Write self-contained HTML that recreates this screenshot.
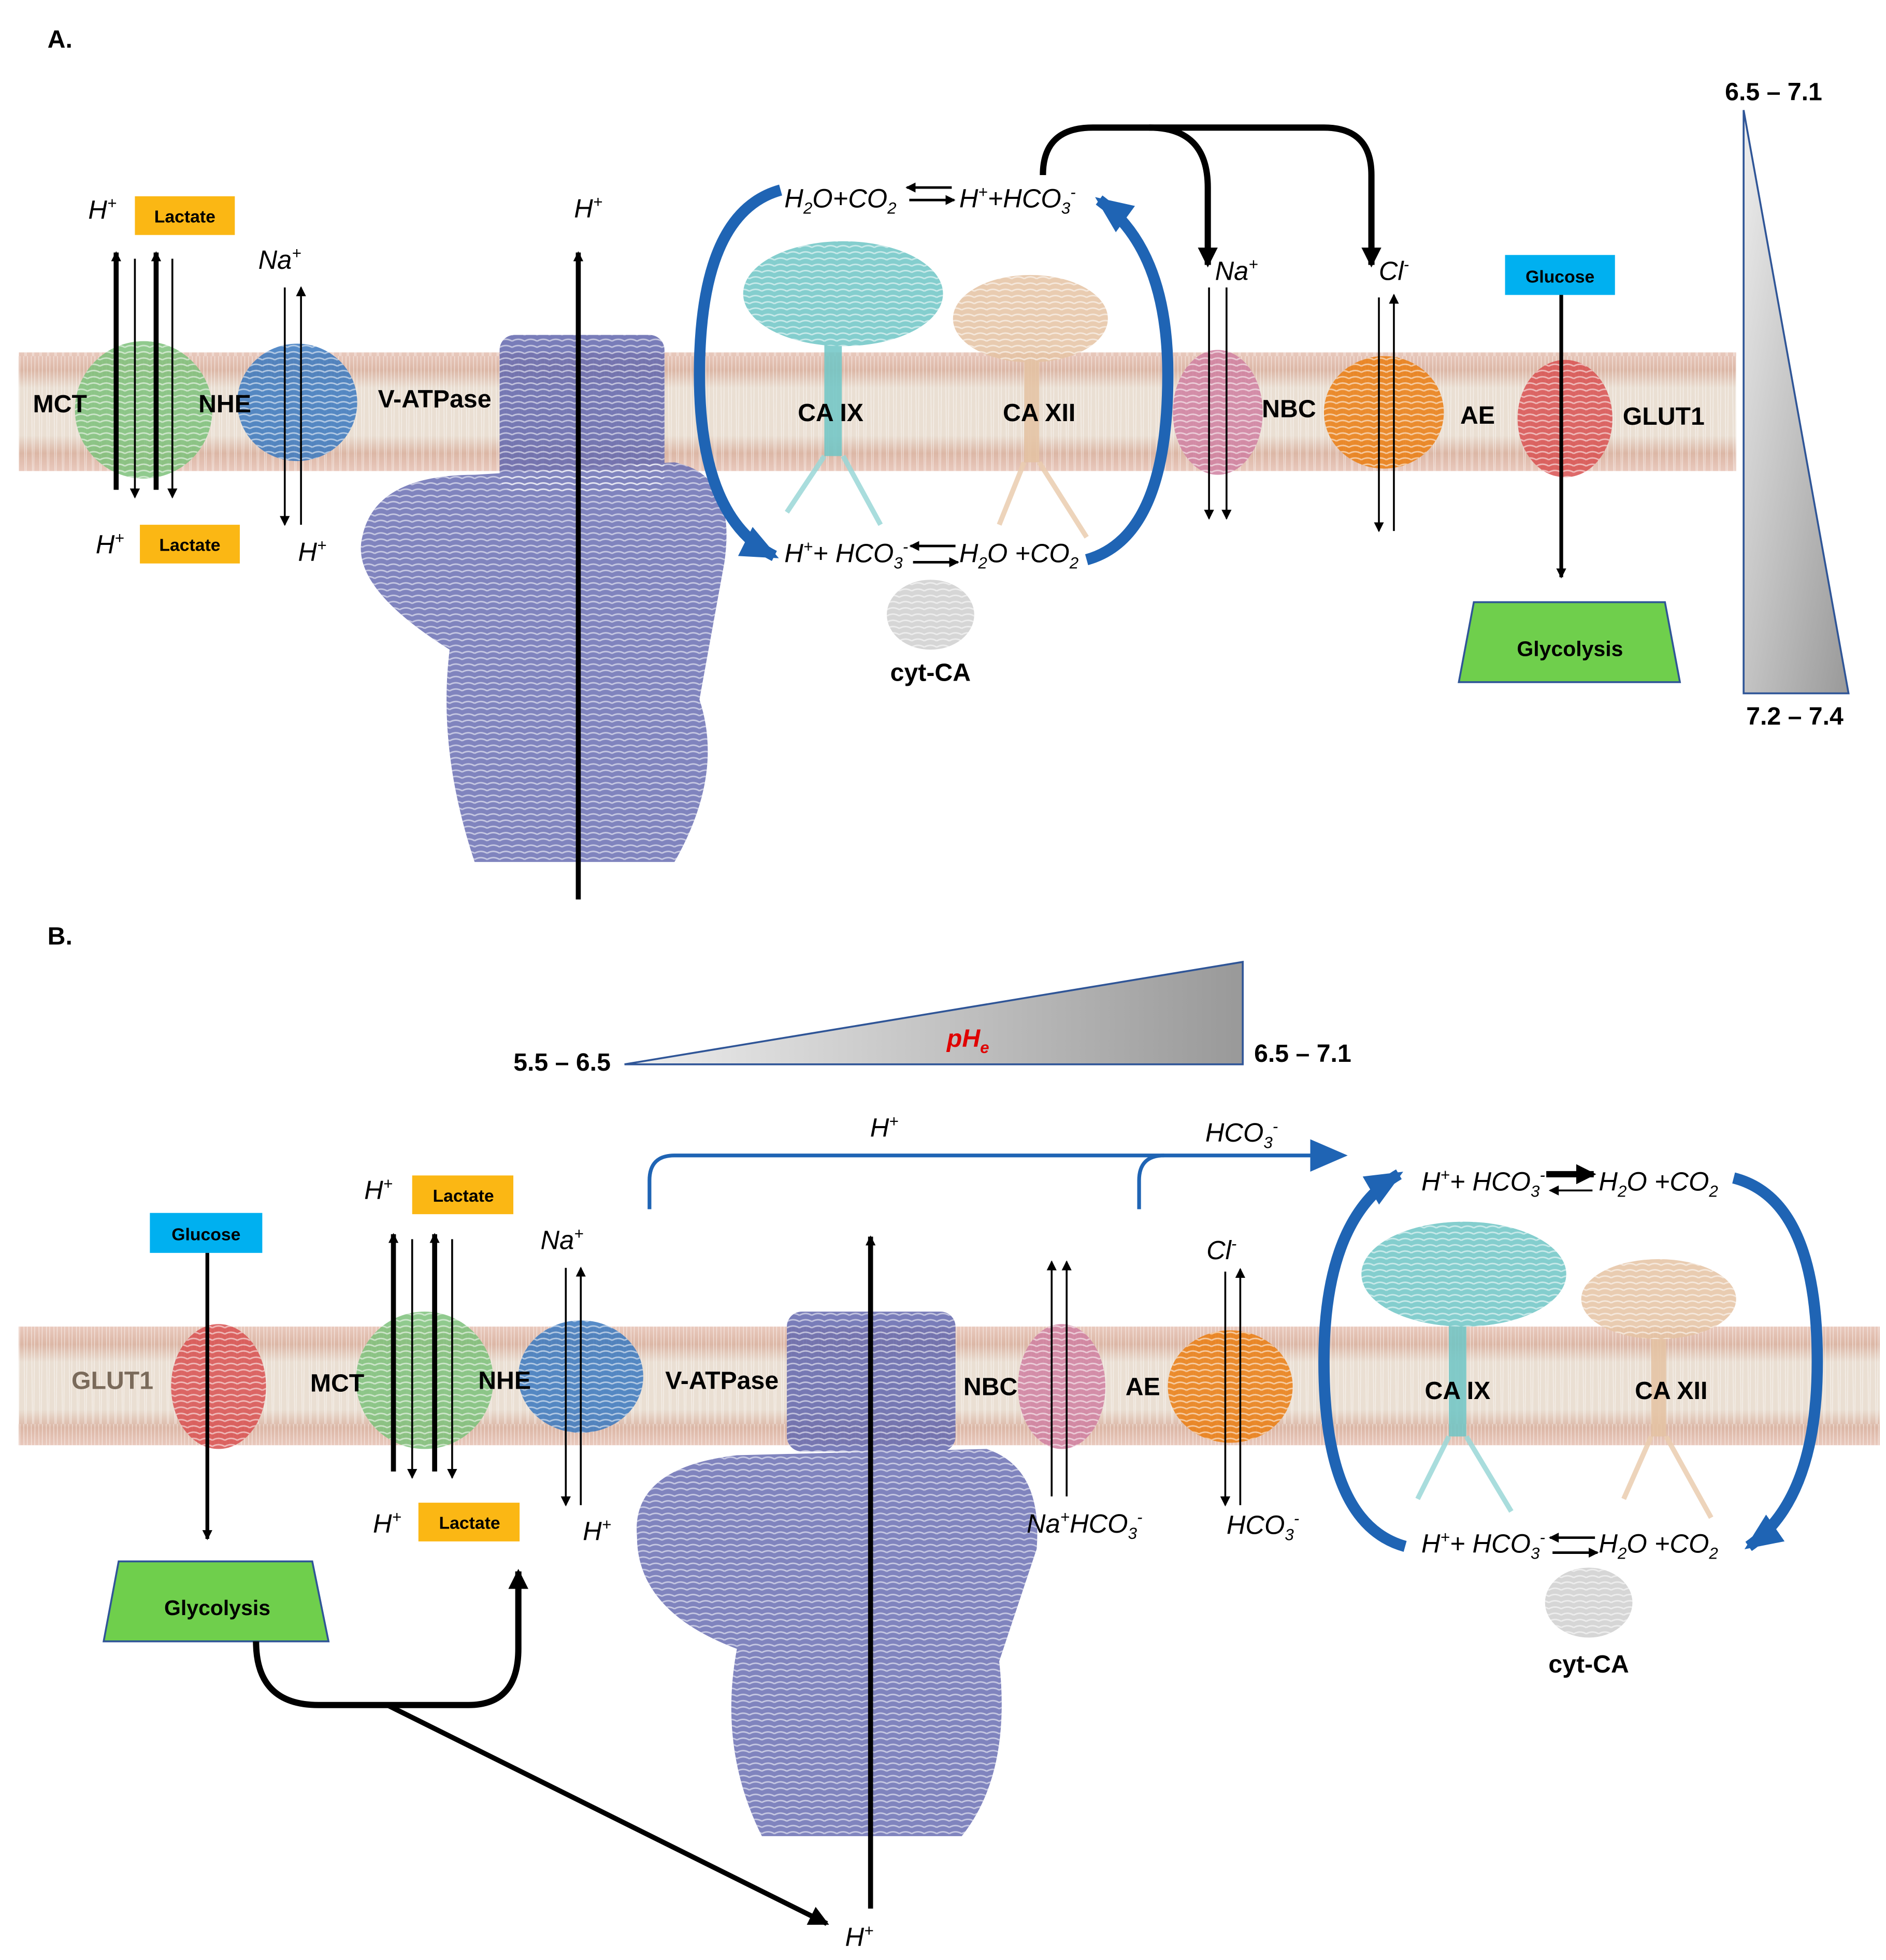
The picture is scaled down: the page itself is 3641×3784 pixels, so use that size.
<!DOCTYPE html>
<html><head><meta charset="utf-8"><style>
html,body{margin:0;padding:0;background:#fff}
svg{display:block}
text{font-family:"Liberation Sans",sans-serif}
.b{font-weight:bold;font-size:20px}
.i{font-style:italic;font-size:21px}
.s{font-weight:bold;font-size:14px}
</style></head><body>
<svg width="3641" height="3784" viewBox="0 0 1510 1569" xmlns="http://www.w3.org/2000/svg">
<defs>
<marker id="ah" markerWidth="8" markerHeight="8" refX="7" refY="4" orient="auto" markerUnits="userSpaceOnUse"><path d="M0,0 L8,4 L0,8z" fill="#000"/></marker>
<marker id="ahb" markerWidth="16" markerHeight="16" refX="14" refY="8" orient="auto" markerUnits="userSpaceOnUse"><path d="M0,0 L16,8 L0,16z" fill="#000"/></marker>
<marker id="ahl" markerWidth="30" markerHeight="26" refX="26" refY="13" orient="auto" markerUnits="userSpaceOnUse"><path d="M0,0 L30,13 L0,26z" fill="#1f64b4"/></marker>
<linearGradient id="mem" x1="0" y1="0" x2="0" y2="1">
<stop offset="0" stop-color="#e9c9bd"/><stop offset="0.15" stop-color="#dcb7a6"/><stop offset="0.3" stop-color="#eadfd3"/><stop offset="0.7" stop-color="#eadfd3"/><stop offset="0.85" stop-color="#dcb7a6"/><stop offset="1" stop-color="#e9c9bd"/></linearGradient>
<pattern id="mtex" width="6" height="95" patternUnits="userSpaceOnUse"><path d="M1,0 L2,95 M4,0 L3,95" stroke="#fff" stroke-width="0.6" opacity="0.5"/></pattern>
<pattern id="tex" width="10" height="10" patternUnits="userSpaceOnUse"><path d="M0,3 Q5,0 10,3 M0,8 Q5,5 10,8" stroke="#fff" stroke-width="1.2" fill="none" opacity="0.55"/></pattern>
<linearGradient id="tri" x1="0" y1="0" x2="1" y2="1"><stop offset="0" stop-color="#eee"/><stop offset="1" stop-color="#999"/></linearGradient>
<linearGradient id="tri2" x1="0" y1="0" x2="1" y2="0"><stop offset="0" stop-color="#eee"/><stop offset="1" stop-color="#999"/></linearGradient>
</defs>

<!-- ========== PANEL A ========== -->
<text x="38" y="38" class="b">A.</text>
<rect x="15" y="282" width="1375" height="95" fill="url(#mem)"/>
<rect x="15" y="282" width="1375" height="95" fill="url(#mtex)"/>

<g id="protA" opacity="0.85">
<ellipse cx="115" cy="328" rx="55" ry="55" fill="#7cc17a"/>
<ellipse cx="238" cy="322" rx="48" ry="47" fill="#3a78be"/>
<rect x="400" y="268" width="132" height="125" rx="12" fill="#6266ad"/>
<path d="M290,430 Q300,380 380,380 L540,370 Q590,380 580,450 L560,560 Q580,620 540,690 L380,690 Q350,600 360,520 Q280,470 290,430z" fill="#6a6fb3"/>
<ellipse cx="675" cy="235" rx="80" ry="42" fill="#6fc6c6"/>
<rect x="660" y="275" width="14" height="90" fill="#6fc6c6"/>
<path d="M660,365 L630,410 M675,365 L705,420" stroke="#9bd8d8" stroke-width="4"/>
<ellipse cx="825" cy="255" rx="62" ry="35" fill="#e5c3a3"/>
<rect x="820" y="285" width="12" height="85" fill="#e5c3a3"/>
<path d="M820,370 L800,420 M832,370 L870,430" stroke="#ebcdb0" stroke-width="4"/>
<ellipse cx="975" cy="330" rx="36" ry="50" fill="#cf7fa0"/>
<ellipse cx="1108" cy="330" rx="48" ry="45" fill="#ea7d10"/>
<ellipse cx="1253" cy="335" rx="38" ry="47" fill="#d85050"/>
<ellipse cx="745" cy="492" rx="35" ry="28" fill="#cfcfcf"/>
</g>
<g fill="url(#tex)">
<ellipse cx="115" cy="328" rx="55" ry="55"/>
<ellipse cx="238" cy="322" rx="48" ry="47"/>
<rect x="400" y="268" width="132" height="125" rx="12"/>
<path d="M290,430 Q300,380 380,380 L540,370 Q590,380 580,450 L560,560 Q580,620 540,690 L380,690 Q350,600 360,520 Q280,470 290,430z"/>
<ellipse cx="675" cy="235" rx="80" ry="42"/>
<ellipse cx="825" cy="255" rx="62" ry="35"/>
<ellipse cx="975" cy="330" rx="36" ry="50"/>
<ellipse cx="1108" cy="330" rx="48" ry="45"/>
<ellipse cx="1253" cy="335" rx="38" ry="47"/>
<ellipse cx="745" cy="492" rx="35" ry="28"/>
</g>
<text x="48" y="330" class="b" text-anchor="middle">MCT</text>
<text x="180" y="330" class="b" text-anchor="middle">NHE</text>
<text x="348" y="326" class="b" text-anchor="middle">V-ATPase</text>
<text x="665" y="337" class="b" text-anchor="middle">CA IX</text>
<text x="832" y="337" class="b" text-anchor="middle">CA XII</text>
<text x="1032" y="334" class="b" text-anchor="middle">NBC</text>
<text x="1183" y="339" class="b" text-anchor="middle">AE</text>
<text x="1332" y="340" class="b" text-anchor="middle">GLUT1</text>
<text x="1415" y="347" text-anchor="middle" font-size="22" font-weight="bold" font-style="italic" fill="#e00000">pH</text>

<line x1="93" y1="392" x2="93" y2="202" stroke="#000" stroke-width="4" marker-end="url(#ah)"/>
<line x1="108" y1="207" x2="108" y2="398" stroke="#000" stroke-width="1.5" marker-end="url(#ah)"/>
<line x1="125" y1="392" x2="125" y2="202" stroke="#000" stroke-width="4" marker-end="url(#ah)"/>
<line x1="138" y1="207" x2="138" y2="398" stroke="#000" stroke-width="1.5" marker-end="url(#ah)"/>
<text x="82" y="175" class="i" text-anchor="middle">H<tspan font-size="13" dy="-8">+</tspan></text>
<rect x="108" y="157" width="80" height="31" fill="#fbb714"/><text x="148" y="178" class="s" text-anchor="middle">Lactate</text>
<text x="88" y="443" class="i" text-anchor="middle">H<tspan font-size="13" dy="-8">+</tspan></text>
<rect x="112" y="420" width="80" height="31" fill="#fbb714"/><text x="152" y="441" class="s" text-anchor="middle">Lactate</text>
<text x="224" y="215" class="i" text-anchor="middle">Na<tspan font-size="13" dy="-8">+</tspan></text>
<line x1="228" y1="230" x2="228" y2="420" stroke="#000" stroke-width="1.5" marker-end="url(#ah)"/>
<line x1="241" y1="420" x2="241" y2="230" stroke="#000" stroke-width="1.5" marker-end="url(#ah)"/>
<text x="250" y="449" class="i" text-anchor="middle">H<tspan font-size="13" dy="-8">+</tspan></text>
<line x1="463" y1="720" x2="463" y2="202" stroke="#000" stroke-width="4" marker-end="url(#ah)"/>
<text x="471" y="174" class="i" text-anchor="middle">H<tspan font-size="13" dy="-8">+</tspan></text>

<text x="628" y="166" class="i">H<tspan font-size="13" dy="5">2</tspan><tspan dy="-5">O+CO</tspan><tspan font-size="13" dy="5">2</tspan></text>
<line x1="762" y1="150" x2="726" y2="150" stroke="#000" stroke-width="2" marker-end="url(#ah)"/>
<line x1="728" y1="160" x2="764" y2="160" stroke="#000" stroke-width="2" marker-end="url(#ah)"/>
<text x="768" y="166" class="i">H<tspan font-size="13" dy="-8">+</tspan><tspan dy="8">+HCO</tspan><tspan font-size="13" dy="5">3</tspan><tspan font-size="13" dy="-13">-</tspan></text>
<text x="628" y="450" class="i">H<tspan font-size="13" dy="-8">+</tspan><tspan dy="8">+ HCO</tspan><tspan font-size="13" dy="5">3</tspan><tspan font-size="13" dy="-13">-</tspan></text>
<line x1="765" y1="437" x2="729" y2="437" stroke="#000" stroke-width="2" marker-end="url(#ah)"/>
<line x1="731" y1="450" x2="767" y2="450" stroke="#000" stroke-width="2" marker-end="url(#ah)"/>
<text x="768" y="450" class="i">H<tspan font-size="13" dy="5">2</tspan><tspan dy="-5">O +CO</tspan><tspan font-size="13" dy="5">2</tspan></text>
<path d="M625,152 Q560,170 560,300 Q560,415 620,445" fill="none" stroke="#1f64b4" stroke-width="9" marker-end="url(#ahl)"/>
<path d="M870,448 Q935,430 935,300 Q935,200 880,160" fill="none" stroke="#1f64b4" stroke-width="9" marker-end="url(#ahl)"/>
<path d="M835,140 Q835,102 875,102 L1060,102 Q1098,102 1098,140 L1098,212" fill="none" stroke="#000" stroke-width="5" marker-end="url(#ahb)"/>
<path d="M920,102 Q967,102 967,150 L967,212" fill="none" stroke="#000" stroke-width="5" marker-end="url(#ahb)"/>
<text x="990" y="224" class="i" text-anchor="middle">Na<tspan font-size="13" dy="-8">+</tspan></text>
<line x1="968" y1="230" x2="968" y2="415" stroke="#000" stroke-width="1.5" marker-end="url(#ah)"/>
<line x1="982" y1="230" x2="982" y2="415" stroke="#000" stroke-width="1.5" marker-end="url(#ah)"/>
<text x="1116" y="224" class="i" text-anchor="middle">Cl<tspan font-size="13" dy="-8">-</tspan></text>
<line x1="1104" y1="238" x2="1104" y2="425" stroke="#000" stroke-width="1.5" marker-end="url(#ah)"/>
<line x1="1116" y1="425" x2="1116" y2="236" stroke="#000" stroke-width="1.5" marker-end="url(#ah)"/>
<rect x="1205" y="204" width="88" height="32" fill="#00b0f0"/><text x="1249" y="226" class="s" text-anchor="middle">Glucose</text>
<line x1="1250" y1="236" x2="1250" y2="462" stroke="#000" stroke-width="3" marker-end="url(#ah)"/>
<path d="M1180,482 L1333,482 L1345,546 L1168,546z" fill="#6fcf4c" stroke="#2f5597" stroke-width="1.5"/>
<text x="1257" y="525" font-size="17" font-weight="bold" text-anchor="middle">Glycolysis</text>
<text x="745" y="545" class="b" text-anchor="middle">cyt-CA</text>
<path d="M1396,88 L1396,555 L1480,555z" fill="url(#tri)" stroke="#2f5597" stroke-width="1.5"/>
<text x="1420" y="80" class="b" text-anchor="middle">6.5 – 7.1</text>
<text x="1437" y="580" class="b" text-anchor="middle">7.2 – 7.4</text>

<!-- ========== PANEL B ========== -->
<text x="38" y="756" class="b">B.</text>
<path d="M500,852 L995,770 L995,852z" fill="url(#tri2)" stroke="#2f5597" stroke-width="1.5"/>
<text x="450" y="857" class="b" text-anchor="middle">5.5 – 6.5</text>
<text x="1043" y="850" class="b" text-anchor="middle">6.5 – 7.1</text>
<text x="775" y="838" text-anchor="middle" font-size="20" font-weight="bold" font-style="italic" fill="#e00000">pH<tspan font-size="13" dy="5">e</tspan></text>

<rect x="15" y="1062" width="1490" height="95" fill="url(#mem)"/>
<rect x="15" y="1062" width="1490" height="95" fill="url(#mtex)"/>
<g opacity="0.85">
<ellipse cx="175" cy="1110" rx="38" ry="50" fill="#d85050"/>
<ellipse cx="340" cy="1105" rx="55" ry="55" fill="#7cc17a"/>
<ellipse cx="465" cy="1102" rx="50" ry="45" fill="#3a78be"/>
<rect x="630" y="1050" width="135" height="112" rx="12" fill="#6266ad"/>
<path d="M510,1230 Q505,1175 590,1165 L790,1160 Q835,1175 830,1240 L800,1330 Q810,1420 770,1470 L610,1470 Q575,1400 590,1320 Q510,1290 510,1230z" fill="#6a6fb3"/>
<ellipse cx="850" cy="1110" rx="35" ry="50" fill="#cf7fa0"/>
<ellipse cx="985" cy="1110" rx="50" ry="45" fill="#ea7d10"/>
<ellipse cx="1172" cy="1020" rx="82" ry="42" fill="#6fc6c6"/>
<rect x="1160" y="1060" width="14" height="90" fill="#6fc6c6"/>
<path d="M1160,1150 L1135,1200 M1174,1150 L1210,1210" stroke="#9bd8d8" stroke-width="4"/>
<ellipse cx="1328" cy="1040" rx="62" ry="32" fill="#e5c3a3"/>
<rect x="1322" y="1070" width="12" height="80" fill="#e5c3a3"/>
<path d="M1322,1150 L1300,1200 M1334,1150 L1370,1215" stroke="#ebcdb0" stroke-width="4"/>
<ellipse cx="1272" cy="1283" rx="35" ry="28" fill="#cfcfcf"/>
</g>
<g fill="url(#tex)">
<ellipse cx="175" cy="1110" rx="38" ry="50"/>
<ellipse cx="340" cy="1105" rx="55" ry="55"/>
<ellipse cx="465" cy="1102" rx="50" ry="45"/>
<rect x="630" y="1050" width="135" height="112" rx="12"/>
<path d="M510,1230 Q505,1175 590,1165 L790,1160 Q835,1175 830,1240 L800,1330 Q810,1420 770,1470 L610,1470 Q575,1400 590,1320 Q510,1290 510,1230z"/>
<ellipse cx="850" cy="1110" rx="35" ry="50"/>
<ellipse cx="985" cy="1110" rx="50" ry="45"/>
<ellipse cx="1172" cy="1020" rx="82" ry="42"/>
<ellipse cx="1328" cy="1040" rx="62" ry="32"/>
<ellipse cx="1272" cy="1283" rx="35" ry="28"/>
</g>
<text x="90" y="1112" class="b" text-anchor="middle" fill="#7a6a5a">GLUT1</text>
<text x="270" y="1114" class="b" text-anchor="middle">MCT</text>
<text x="404" y="1112" class="b" text-anchor="middle">NHE</text>
<text x="578" y="1112" class="b" text-anchor="middle">V-ATPase</text>
<text x="793" y="1117" class="b" text-anchor="middle">NBC</text>
<text x="915" y="1117" class="b" text-anchor="middle">AE</text>
<text x="1167" y="1120" class="b" text-anchor="middle">CA IX</text>
<text x="1338" y="1120" class="b" text-anchor="middle">CA XII</text>

<rect x="120" y="971" width="90" height="32" fill="#00b0f0"/><text x="165" y="993" class="s" text-anchor="middle">Glucose</text>
<line x1="166" y1="1003" x2="166" y2="1232" stroke="#000" stroke-width="3" marker-end="url(#ah)"/>
<path d="M95,1250 L250,1250 L263,1314 L83,1314z" fill="#6fcf4c" stroke="#2f5597" stroke-width="1.5"/>
<text x="174" y="1293" font-size="17" font-weight="bold" text-anchor="middle">Glycolysis</text>
<path d="M205,1314 Q205,1365 255,1365 L375,1365 Q415,1365 415,1320 L415,1258" fill="none" stroke="#000" stroke-width="5" marker-end="url(#ahb)"/>
<line x1="310" y1="1365" x2="662" y2="1540" stroke="#000" stroke-width="4" marker-end="url(#ahb)"/>

<line x1="315" y1="1178" x2="315" y2="988" stroke="#000" stroke-width="4" marker-end="url(#ah)"/>
<line x1="330" y1="992" x2="330" y2="1183" stroke="#000" stroke-width="1.5" marker-end="url(#ah)"/>
<line x1="348" y1="1178" x2="348" y2="988" stroke="#000" stroke-width="4" marker-end="url(#ah)"/>
<line x1="362" y1="992" x2="362" y2="1183" stroke="#000" stroke-width="1.5" marker-end="url(#ah)"/>
<text x="303" y="960" class="i" text-anchor="middle">H<tspan font-size="13" dy="-8">+</tspan></text>
<rect x="330" y="941" width="81" height="31" fill="#fbb714"/><text x="371" y="962" class="s" text-anchor="middle">Lactate</text>
<text x="310" y="1227" class="i" text-anchor="middle">H<tspan font-size="13" dy="-8">+</tspan></text>
<rect x="335" y="1203" width="81" height="31" fill="#fbb714"/><text x="376" y="1224" class="s" text-anchor="middle">Lactate</text>
<text x="450" y="1000" class="i" text-anchor="middle">Na<tspan font-size="13" dy="-8">+</tspan></text>
<line x1="453" y1="1015" x2="453" y2="1205" stroke="#000" stroke-width="1.5" marker-end="url(#ah)"/>
<line x1="465" y1="1205" x2="465" y2="1015" stroke="#000" stroke-width="1.5" marker-end="url(#ah)"/>
<text x="478" y="1233" class="i" text-anchor="middle">H<tspan font-size="13" dy="-8">+</tspan></text>
<line x1="697" y1="1528" x2="697" y2="990" stroke="#000" stroke-width="4" marker-end="url(#ah)"/>
<text x="688" y="1558" class="i" text-anchor="middle">H<tspan font-size="13" dy="-8">+</tspan></text>
<line x1="842" y1="1198" x2="842" y2="1010" stroke="#000" stroke-width="1.5" marker-end="url(#ah)"/>
<line x1="854" y1="1198" x2="854" y2="1010" stroke="#000" stroke-width="1.5" marker-end="url(#ah)"/>
<text x="822" y="1227" class="i">Na<tspan font-size="13" dy="-8">+</tspan><tspan dy="8">HCO</tspan><tspan font-size="13" dy="5">3</tspan><tspan font-size="13" dy="-13">-</tspan></text>
<text x="978" y="1008" class="i" text-anchor="middle">Cl<tspan font-size="13" dy="-8">-</tspan></text>
<line x1="981" y1="1018" x2="981" y2="1205" stroke="#000" stroke-width="1.5" marker-end="url(#ah)"/>
<line x1="993" y1="1205" x2="993" y2="1016" stroke="#000" stroke-width="1.5" marker-end="url(#ah)"/>
<text x="982" y="1228" class="i">HCO<tspan font-size="13" dy="5">3</tspan><tspan font-size="13" dy="-13">-</tspan></text>
<path d="M520,968 L520,945 Q520,925 540,925 L1075,925" fill="none" stroke="#1f64b4" stroke-width="3" marker-end="url(#ahl)"/>
<path d="M912,968 L912,945 Q912,925 932,925" fill="none" stroke="#1f64b4" stroke-width="3"/>
<text x="708" y="910" class="i" text-anchor="middle">H<tspan font-size="13" dy="-8">+</tspan></text>
<text x="965" y="914" class="i">HCO<tspan font-size="13" dy="5">3</tspan><tspan font-size="13" dy="-13">-</tspan></text>

<text x="1138" y="953" class="i">H<tspan font-size="13" dy="-8">+</tspan><tspan dy="8">+ HCO</tspan><tspan font-size="13" dy="5">3</tspan><tspan font-size="13" dy="-13">-</tspan></text>
<line x1="1238" y1="940" x2="1276" y2="940" stroke="#000" stroke-width="5" marker-end="url(#ahb)"/>
<line x1="1275" y1="953" x2="1241" y2="953" stroke="#000" stroke-width="1.5" marker-end="url(#ah)"/>
<text x="1280" y="953" class="i">H<tspan font-size="13" dy="5">2</tspan><tspan dy="-5">O +CO</tspan><tspan font-size="13" dy="5">2</tspan></text>
<text x="1138" y="1243" class="i">H<tspan font-size="13" dy="-8">+</tspan><tspan dy="8">+ HCO</tspan><tspan font-size="13" dy="5">3</tspan><tspan font-size="13" dy="-13">-</tspan></text>
<line x1="1277" y1="1231" x2="1241" y2="1231" stroke="#000" stroke-width="2" marker-end="url(#ah)"/>
<line x1="1243" y1="1243" x2="1279" y2="1243" stroke="#000" stroke-width="2" marker-end="url(#ah)"/>
<text x="1280" y="1243" class="i">H<tspan font-size="13" dy="5">2</tspan><tspan dy="-5">O +CO</tspan><tspan font-size="13" dy="5">2</tspan></text>
<path d="M1125,1238 Q1060,1220 1060,1090 Q1060,975 1120,940" fill="none" stroke="#1f64b4" stroke-width="9" marker-end="url(#ahl)"/>
<path d="M1388,943 Q1455,960 1455,1090 Q1455,1200 1400,1238" fill="none" stroke="#1f64b4" stroke-width="9" marker-end="url(#ahl)"/>
<text x="1272" y="1339" class="b" text-anchor="middle">cyt-CA</text>
</svg>
</body></html>
